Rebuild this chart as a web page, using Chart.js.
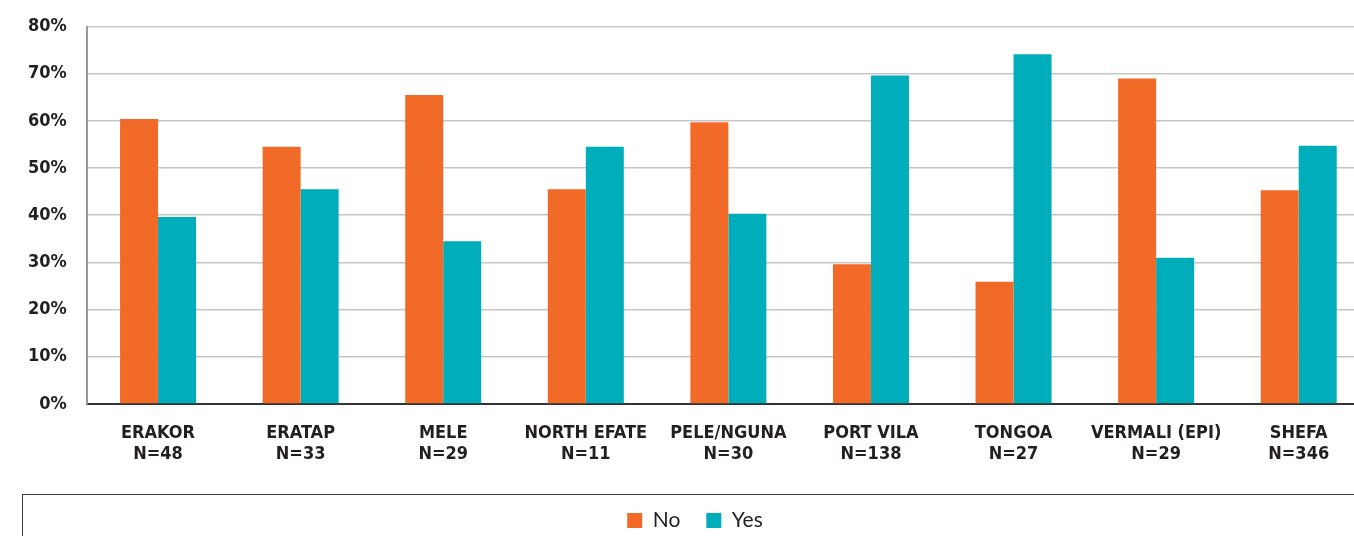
<!DOCTYPE html>
<html>
<head>
<meta charset="utf-8">
<script src="https://cdn.jsdelivr.net/npm/chart.js@4"></script>
<style>
    body { margin: 0; background: #fff; overflow: hidden; }
    #wrap { position: relative; width: 1390px; height: 545px; top: -4px; }
    #legendBox { position: absolute; left: 22px; top: 498px; width: 1400px; height: 100px; border: 1.5px solid #3a3a3a; box-sizing: border-box; }
</style>
</head>
<body>
<div id="wrap">
    <div id="legendBox"></div>
    <canvas id="chart"></canvas>
</div>
<script>
const categories = ['ERAKOR', 'ERATAP', 'MELE', 'NORTH EFATE', 'PELE/NGUNA', 'PORT VILA', 'TONGOA', 'VERMALI (EPI)', 'SHEFA'];
const sampleSizes = [48, 33, 29, 11, 30, 138, 27, 29, 346];
const noValues = [60.4, 54.5, 65.5, 45.5, 59.7, 29.6, 25.9, 69.0, 45.3];
const yesValues = [39.6, 45.5, 34.5, 54.5, 40.3, 69.6, 74.1, 31.0, 54.7];
const yTicks = [0, 10, 20, 30, 40, 50, 60, 70, 80];

const tickFont = { family: '"DejaVu Sans Condensed", sans-serif', size: 18, weight: 'bold', lineHeight: 1.17 };

// nudge the legend a little to the right, like the original
const legendShift = {
    id: 'legendShift',
    afterLayout: chart => {
        chart.legend.left += 6;
        chart.legend.right += 6;
    }
};

new Chart(document.getElementById('chart').getContext('2d'), {
    type: 'bar',
    data: {
        labels: categories.map((c, i) => [c, 'N=' + sampleSizes[i]]),
        datasets: [{
            label: 'No',
            data: noValues,
            backgroundColor: '#F26A27'
        }, {
            label: 'Yes',
            data: yesValues,
            backgroundColor: '#00ADBB'
        }]
    },
    options: {
        responsive: true,
        maintainAspectRatio: false,
        animation: false,
        layout: {
            padding: { top: 6, right: 20, left: 8, bottom: 0 }
        },
        datasets: {
            bar: { categoryPercentage: 0.533, barPercentage: 1 }
        },
        scales: {
            x: {
                grid: { color: 'transparent', drawTicks: false },
                border: { display: true, color: '#333', width: 2 },
                ticks: { font: tickFont, color: '#231f20', padding: 19, maxRotation: 0, autoSkip: false }
            },
            y: {
                min: 0,
                max: 80,
                afterBuildTicks: axis => { axis.ticks = yTicks.map(v => ({ value: v })); },
                grid: { color: '#c6c6c6', lineWidth: 1.5, drawTicks: false },
                border: { display: true, color: '#999', width: 2 },
                ticks: { font: tickFont, color: '#231f20', padding: 20, callback: v => v + '%' }
            }
        },
        plugins: {
            tooltip: { enabled: false },
            legend: {
                position: 'bottom',
                labels: {
                    boxWidth: 15,
                    boxHeight: 15,
                    padding: 26,
                    color: '#231f20',
                    font: { family: 'Lato, "Open Sans", sans-serif', size: 21 }
                }
            }
        }
    },
    plugins: [legendShift]
});
</script>
</body>
</html>
